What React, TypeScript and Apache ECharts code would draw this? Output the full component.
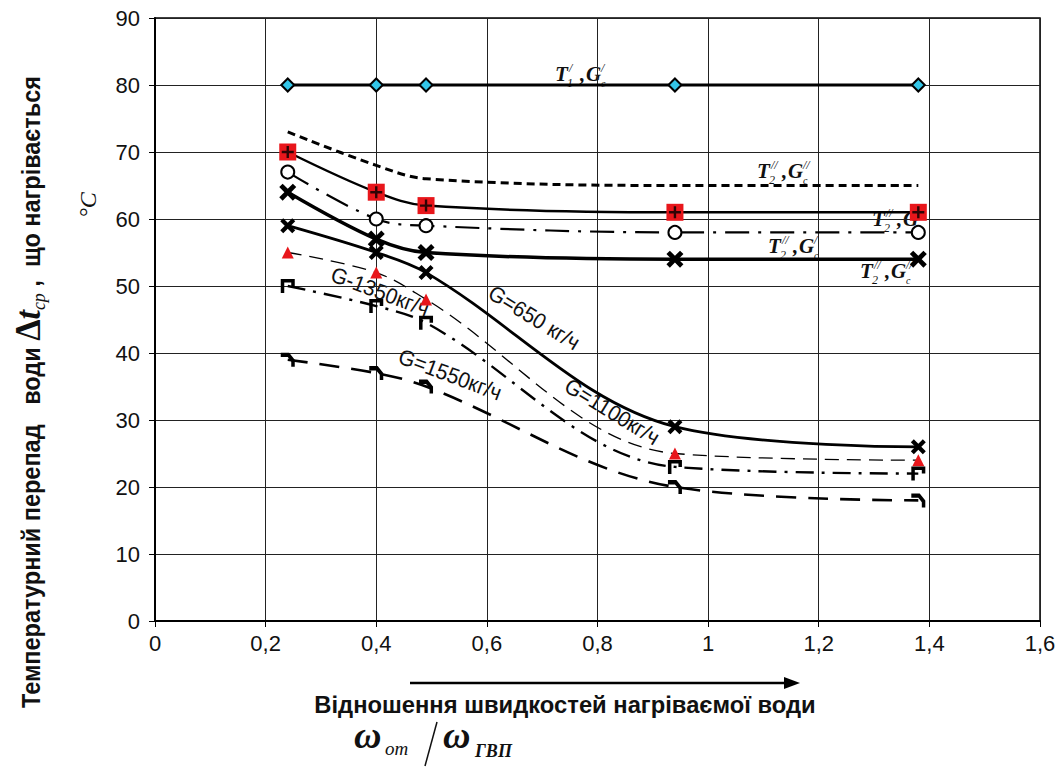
import React, { useEffect, useRef } from "react";
import * as echarts from "echarts";

const xVals = [0.24, 0.4, 0.49, 0.94, 1.38];
const t1Vals = [80, 80, 80, 80, 80];
const t2DashedVals = [73, 68, 66, 65, 65];
const redSquareVals = [70, 64, 62, 61, 61];
const circleVals = [67, 60, 59, 58, 58];
const boldCrossVals = [64, 57, 55, 54, 54];
const g650Vals = [59, 55, 52, 29, 26];
const g1350Vals = [55, 52, 48, 25, 24];
const g1100Vals = [50, 47, 44.5, 23, 22];
const g1550Vals = [39, 37, 35, 20, 18];

const xTickLabels = ["0", "0,2", "0,4", "0,6", "0,8", "1", "1,2", "1,4", "1,6"];

const SANS = "'Liberation Sans', Arial, sans-serif";
const SERIF = "'Liberation Serif', 'Times New Roman', serif";

const pts = (vals: number[]) => xVals.map((x, i) => [x, vals[i]]);

const CROSS = "path://M0,2 L2,0 L5,3 L8,0 L10,2 L7,5 L10,8 L8,10 L5,7 L2,10 L0,8 L3,5 Z";
const PLUS = "path://M4,0 H6 V4 H10 V6 H6 V10 H4 V6 H0 V4 H4 Z";
const BRACKET = "path://M0,0 H10 V5 H7.5 V2.5 H2.5 V10 H0 Z";
const HOOK = "path://M0,0 H6 L10,4 V8 H7.5 V5 L5,2.5 H0 Z";

function tLabel(x: number, y: number, idx: string, p1: string, p2: string) {
  const F = `bold italic 21px ${SERIF}`;
  const small = `italic 12px ${SERIF}`;
  return {
    type: "group",
    x,
    y,
    children: [
      { type: "text", x: 0, y: 0, style: { text: "T", font: F, fill: "#111", verticalAlign: "bottom" } },
      { type: "text", x: 12, y: 5, style: { text: idx, font: small, fill: "#111", verticalAlign: "bottom" } },
      { type: "text", x: 14, y: -10, style: { text: p1, font: small, fill: "#111", verticalAlign: "bottom" } },
      { type: "text", x: 25, y: 0, style: { text: ",", font: F, fill: "#111", verticalAlign: "bottom" } },
      { type: "text", x: 31, y: 0, style: { text: "G", font: F, fill: "#111", verticalAlign: "bottom" } },
      { type: "text", x: 46, y: -10, style: { text: p2, font: small, fill: "#111", verticalAlign: "bottom" } },
      { type: "text", x: 46, y: 4, style: { text: "c", font: `italic 10px ${SERIF}`, fill: "#111", verticalAlign: "bottom" } },
    ],
  };
}

function gLabel(x: number, y: number, text: string, rot: number) {
  return {
    type: "text",
    x,
    y,
    rotation: rot,
    scaleX: 0.95,
    style: { text, font: `22px ${SANS}`, fill: "#111", align: "center", verticalAlign: "middle" },
  };
}

export default function App() {
  const ref = useRef<HTMLDivElement>(null);
  useEffect(() => {
    if (!ref.current) return;
    const chart = echarts.init(ref.current, null, { renderer: "svg" });
    const lineBase = { type: "line", smooth: 0.35, showAllSymbol: true, z: 3 };
    chart.setOption({
      animation: false,
      backgroundColor: "#fff",
      grid: { left: 155, right: 23, top: 18, bottom: 146, show: true, borderColor: "#000", borderWidth: 1.5 },
      xAxis: {
        type: "value",
        min: 0,
        max: 1.6,
        interval: 0.2,
        axisLine: { show: true, onZero: false, lineStyle: { color: "#000", width: 2 } },
        axisTick: { show: true, length: 6, lineStyle: { color: "#000", width: 1 } },
        splitLine: { show: true, lineStyle: { color: "#222", width: 1 } },
        axisLabel: {
          formatter: (v: number) => xTickLabels[Math.round(v / 0.2)] ?? "",
          fontSize: 22,
          fontFamily: SANS,
          color: "#111",
          margin: 11,
        },
      },
      yAxis: {
        type: "value",
        min: 0,
        max: 90,
        interval: 10,
        axisLine: { show: true, lineStyle: { color: "#000", width: 2 } },
        axisTick: { show: true, length: 6, lineStyle: { color: "#000", width: 1 } },
        splitLine: { show: true, lineStyle: { color: "#222", width: 1 } },
        axisLabel: { fontSize: 22, fontFamily: SANS, color: "#111", margin: 15 },
      },
      series: [
        {
          ...lineBase,
          name: "T1",
          data: pts(t1Vals),
          symbol: "diamond",
          symbolSize: 13,
          lineStyle: { color: "#000", width: 2.8 },
          itemStyle: { color: "#33c6e8", borderColor: "#000", borderWidth: 2 },
        },
        {
          ...lineBase,
          name: "T2 dashed",
          data: pts(t2DashedVals),
          symbol: "none",
          lineStyle: { color: "#000", width: 3, type: [8, 5] },
        },
        {
          ...lineBase,
          name: "red squares",
          data: pts(redSquareVals),
          symbol: "rect",
          symbolSize: 17,
          lineStyle: { color: "#000", width: 2.5 },
          itemStyle: { color: "#e8161b" },
        },
        {
          type: "scatter",
          name: "plus",
          data: pts(redSquareVals),
          symbol: PLUS,
          symbolSize: 12,
          itemStyle: { color: "#000" },
          z: 5,
        },
        {
          ...lineBase,
          name: "circles",
          data: pts(circleVals),
          symbol: "emptyCircle",
          symbolSize: 13,
          lineStyle: { color: "#000", width: 2.2, type: [24, 9, 3, 9] },
          itemStyle: { color: "#000", borderWidth: 2.5 },
        },
        {
          ...lineBase,
          name: "bold cross",
          data: pts(boldCrossVals),
          symbol: CROSS,
          symbolSize: 17,
          lineStyle: { color: "#000", width: 3.5 },
          itemStyle: { color: "#000" },
        },
        {
          ...lineBase,
          name: "G=650",
          data: pts(g650Vals),
          symbol: CROSS,
          symbolSize: 15,
          lineStyle: { color: "#000", width: 2.8 },
          itemStyle: { color: "#000" },
        },
        {
          ...lineBase,
          name: "G=1350",
          data: pts(g1350Vals),
          symbol: "triangle",
          symbolSize: 12,
          lineStyle: { color: "#000", width: 1.3, type: [14, 8] },
          itemStyle: { color: "#e8161b" },
        },
        {
          ...lineBase,
          name: "G=1100",
          data: pts(g1100Vals),
          symbol: BRACKET,
          symbolSize: 14,
          lineStyle: { color: "#000", width: 2.4, type: [18, 8, 3, 8] },
          itemStyle: { color: "#000" },
        },
        {
          ...lineBase,
          name: "G=1550",
          data: pts(g1550Vals),
          symbol: HOOK,
          symbolSize: 14,
          lineStyle: { color: "#000", width: 2.6, type: [20, 12] },
          itemStyle: { color: "#000" },
        },
      ],
      graphic: [
        tLabel(555, 84, "1", "/", "/"),
        tLabel(757, 181, "2", "//", "//"),
        tLabel(872, 229, "2", "//", "//"),
        tLabel(768, 256, "2", "//", "/"),
        tLabel(860, 281, "2", "//", "//"),
        gLabel(380, 292, "G-1350кг/ч", -0.36),
        gLabel(534, 318, "G=650 кг/ч", -0.55),
        gLabel(612, 412, "G=1100кг/ч", -0.55),
        gLabel(450, 375, "G=1550кг/ч", -0.36),
        {
          type: "text",
          x: 29,
          y: 392,
          rotation: Math.PI / 2,
          scaleX: 0.94,
          style: {
            text: "{a|Температурний перепад   води }{d|Δ}{t|t}{s|cp}{a| ,  що нагрівається}",
            align: "center",
            verticalAlign: "middle",
            fill: "#111",
            rich: {
              a: { font: `bold 25px ${SANS}`, fill: "#111", verticalAlign: "bottom", padding: [0, 0, 4, 0] },
              d: { font: `bold 36px ${SERIF}`, fill: "#111", verticalAlign: "bottom", padding: [0, 0, 2, 0] },
              t: { font: `bold italic 36px ${SERIF}`, fill: "#111", verticalAlign: "bottom", padding: [0, 0, 2, 0] },
              s: { font: `italic 19px ${SERIF}`, fill: "#111", verticalAlign: "bottom" },
            },
          },
        },
        {
          type: "text",
          x: 88,
          y: 205,
          rotation: Math.PI / 2,
          style: { text: "°C", font: `italic 24px ${SERIF}`, fill: "#111", align: "center", verticalAlign: "middle" },
        },
        {
          type: "line",
          shape: { x1: 410, y1: 683, x2: 786, y2: 683 },
          style: { stroke: "#000", lineWidth: 2.5 },
        },
        {
          type: "polygon",
          shape: { points: [[784, 677], [800, 683], [784, 689]] },
          style: { fill: "#000" },
        },
        {
          type: "text",
          x: 565,
          y: 704,
          scaleX: 0.99,
          style: {
            text: "Відношення швидкостей нагріваємої води",
            font: `bold 24px ${SANS}`,
            fill: "#111",
            align: "center",
            verticalAlign: "middle",
          },
        },
        { type: "text", x: 354, y: 754, style: { text: "ω", font: `bold italic 38px ${SERIF}`, fill: "#111", verticalAlign: "bottom" } },
        { type: "text", x: 385, y: 758, style: { text: "от", font: `italic 19px ${SERIF}`, fill: "#111", verticalAlign: "bottom" } },
        { type: "line", shape: { x1: 425, y1: 766, x2: 437, y2: 722 }, style: { stroke: "#111", lineWidth: 1.5 } },
        { type: "text", x: 443, y: 754, style: { text: "ω", font: `bold italic 38px ${SERIF}`, fill: "#111", verticalAlign: "bottom" } },
        { type: "text", x: 475, y: 760, style: { text: "ГВП", font: `bold italic 18px ${SERIF}`, fill: "#111", verticalAlign: "bottom" } },
      ],
    });
    return () => chart.dispose();
  }, []);
  return <div ref={ref} style={{ position: "absolute", left: 0, top: 0, width: 1063, height: 767 }} />;
}
